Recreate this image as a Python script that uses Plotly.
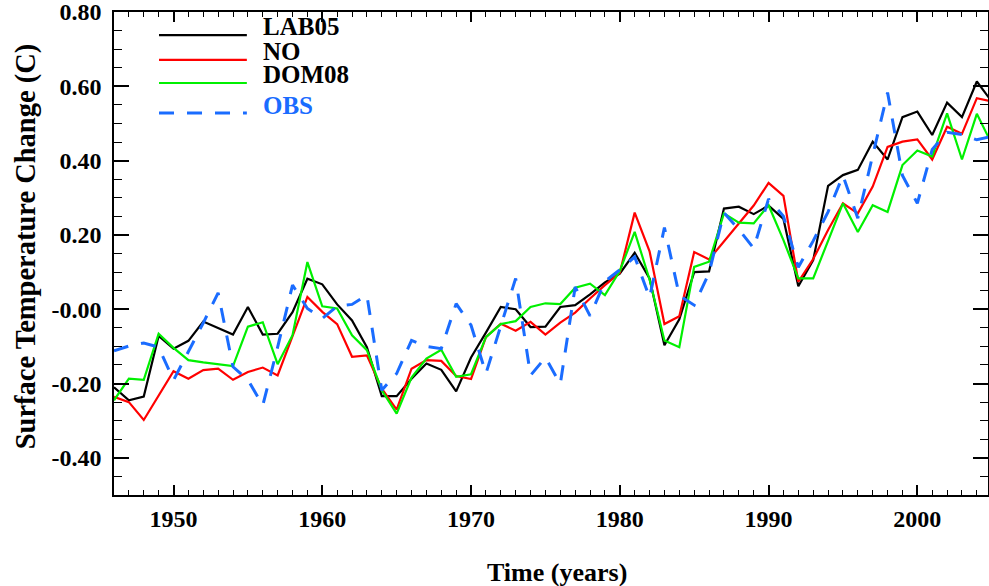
import plotly.graph_objects as go

years = list(range(1946, 2006))

lab05 = [-0.210, -0.245, -0.235, -0.072, -0.106, -0.085, -0.033, -0.050, -0.068, 0.006,
         -0.068, -0.066, -0.008, 0.082, 0.067, 0.013, -0.030, -0.102, -0.234, -0.234,
         -0.187, -0.146, -0.163, -0.221, -0.130, -0.063, 0.006, 0.000, -0.048, -0.047,
         0.006, 0.011, 0.040, 0.072, 0.096, 0.152, 0.083, -0.097, -0.027, 0.100,
         0.102, 0.271, 0.276, 0.256, 0.279, 0.243, 0.062, 0.132, 0.332, 0.361,
         0.375, 0.451, 0.403, 0.517, 0.532, 0.469, 0.556, 0.517, 0.613, 0.559]

no = [-0.236, -0.250, -0.298, -0.233, -0.167, -0.187, -0.164, -0.160, -0.190, -0.169,
      -0.157, -0.178, -0.070, 0.033, -0.007, -0.040, -0.128, -0.124, -0.214, -0.270,
      -0.160, -0.137, -0.139, -0.180, -0.188, -0.075, -0.039, -0.058, -0.034, -0.068,
      -0.036, -0.009, 0.029, 0.065, 0.098, 0.260, 0.156, -0.040, -0.019, 0.154,
      0.134, 0.183, 0.233, 0.279, 0.340, 0.305, 0.074, 0.135, 0.213, 0.285,
      0.258, 0.330, 0.437, 0.451, 0.457, 0.403, 0.491, 0.472, 0.568, 0.559]

dom08 = [-0.245, -0.187, -0.190, -0.066, -0.104, -0.137, -0.143, -0.148, -0.153, -0.047,
         -0.035, -0.148, -0.070, 0.127, 0.008, 0.002, -0.070, -0.110, -0.218, -0.281,
         -0.184, -0.133, -0.109, -0.182, -0.175, -0.075, -0.040, -0.032, 0.006, 0.016,
         0.014, 0.058, 0.069, 0.038, 0.103, 0.208, 0.080, -0.084, -0.102, 0.114,
         0.128, 0.258, 0.233, 0.231, 0.280, 0.186, 0.083, 0.083, 0.186, 0.285,
         0.208, 0.280, 0.262, 0.388, 0.427, 0.411, 0.527, 0.403, 0.526, 0.445]

obs = [-0.112, -0.099, -0.091, -0.102, -0.191, -0.115, -0.037, 0.044, -0.155, -0.190,
       -0.259, -0.102, 0.065, 0.002, -0.025, 0.008, 0.013, 0.038, -0.218, -0.173,
       -0.084, -0.100, -0.106, 0.015, -0.043, -0.173, -0.047, 0.083, -0.178, -0.130,
       -0.201, 0.060, -0.018, 0.075, 0.106, 0.141, 0.031, 0.220, 0.037, 0.011,
       0.098, 0.260, 0.215, 0.164, 0.297, 0.250, 0.113, 0.184, 0.262, 0.360,
       0.245, 0.410, 0.583, 0.360, 0.285, 0.430, 0.476, 0.470, 0.456, 0.465]

series_names = ["LAB05", "NO", "DOM08", "OBS"]
x_tickvals = [1950, 1960, 1970, 1980, 1990, 2000]
x_ticktext = ["1950", "1960", "1970", "1980", "1990", "2000"]
y_tickvals = [-0.4, -0.2, 0.0, 0.2, 0.4, 0.6, 0.8]
y_ticktext = ["-0.40", "-0.20", "-0.00", "0.20", "0.40", "0.60", "0.80"]

BLACK = "#000000"
RED = "#ff0000"
GREEN = "#00f000"
BLUE = "#1a6cff"
FONT = "Liberation Serif"

X_RANGE = [1946, 2004.75]
Y_RANGE = [-0.5, 0.8]

fig = go.Figure()
styles = [
    (lab05, BLACK, 2.2, "solid"),
    (no, RED, 2.2, "solid"),
    (dom08, GREEN, 2.2, "solid"),
    (obs, BLUE, 3, "15px,13px"),
]
for (vals, col, w, dash), name in zip(styles, series_names):
    fig.add_trace(go.Scatter(x=years, y=vals, mode="lines", name=name,
                             line=dict(color=col, width=w, dash=dash),
                             showlegend=False))

# legend drawn manually (samples + labels) in paper coordinates
leg_rows = [
    (0.952, 0.970, BLACK, "solid", 2.2, BLACK),
    (0.901, 0.919, RED, "solid", 2.2, BLACK),
    (0.853, 0.870, GREEN, "solid", 2.2, BLACK),
    (0.791, 0.806, BLUE, "15px,13px", 3, BLUE),
]
for (ly, ty, col, dash, w, tcol), name in zip(leg_rows, series_names):
    fig.add_shape(type="line", xref="paper", yref="paper", x0=0.0515, x1=0.152,
                  y0=ly, y1=ly, line=dict(color=col, width=w, dash=dash))
    fig.add_annotation(xref="paper", yref="paper", x=0.168, y=ty, text=name,
                       showarrow=False, xanchor="left", yanchor="middle",
                       font=dict(family=FONT, size=25, color=tcol, weight="bold"))

fig.add_annotation(xref="paper", yref="paper", x=(26 - 114) / 874, y=0.515,
                   text="Surface Temperature Change (C)", textangle=-90,
                   showarrow=False, xanchor="center", yanchor="middle",
                   font=dict(family=FONT, size=28.5, color=BLACK, weight="bold"))
fig.add_annotation(xref="paper", yref="paper", x=(557 - 114) / 874, y=(495 - 572) / 483,
                   text="Time (years)", showarrow=False,
                   xanchor="center", yanchor="middle",
                   font=dict(family=FONT, size=26, color=BLACK, weight="bold"))

# invisible helper trace so the minor-tick overlay axes get drawn
fig.add_trace(go.Scatter(x=[years[0]], y=[obs[0]], mode="markers", xaxis="x2", yaxis="y2",
                         marker=dict(opacity=0), hoverinfo="skip", showlegend=False))

fig.update_layout(
    width=989, height=586,
    margin=dict(l=114, r=1, t=12, b=91, autoexpand=False),
    paper_bgcolor="white", plot_bgcolor="white",
    showlegend=False,
    xaxis=dict(range=X_RANGE, showgrid=False, zeroline=False, automargin=False,
               showline=True, linecolor=BLACK, linewidth=1.5, mirror="allticks",
               ticks="inside", ticklen=10, tickwidth=1.5, tickcolor=BLACK,
               tickmode="array", tickvals=x_tickvals, ticktext=x_ticktext,
               ticklabelstandoff=1, ticklabeloverflow="allow",
               tickfont=dict(family=FONT, size=24, color=BLACK, weight="bold")),
    yaxis=dict(range=Y_RANGE, showgrid=False, zeroline=False, automargin=False,
               showline=True, linecolor=BLACK, linewidth=1.5, mirror="allticks",
               ticks="inside", ticklen=15, tickwidth=1.5, tickcolor=BLACK,
               tickmode="array", tickvals=y_tickvals, ticktext=y_ticktext,
               ticklabelstandoff=6, ticklabeloverflow="allow",
               tickfont=dict(family=FONT, size=24, color=BLACK, weight="bold")),
    xaxis2=dict(range=X_RANGE, overlaying="x", anchor="y", side="bottom",
                showgrid=False, zeroline=False, automargin=False, showline=False,
                mirror="ticks", ticks="inside", ticklen=5, tickwidth=1.2,
                tickcolor=BLACK, tickmode="linear", tick0=1946, dtick=1,
                showticklabels=False),
    yaxis2=dict(range=Y_RANGE, overlaying="y", anchor="x", side="left",
                showgrid=False, zeroline=False, automargin=False, showline=False,
                mirror="ticks", ticks="inside", ticklen=8, tickwidth=1.2,
                tickcolor=BLACK, tickmode="linear", tick0=0, dtick=0.05,
                showticklabels=False),
)

fig.write_html("out.html", config={"displayModeBar": False},
               post_script="document.body.style.margin='0';document.body.style.overflow='hidden';")
